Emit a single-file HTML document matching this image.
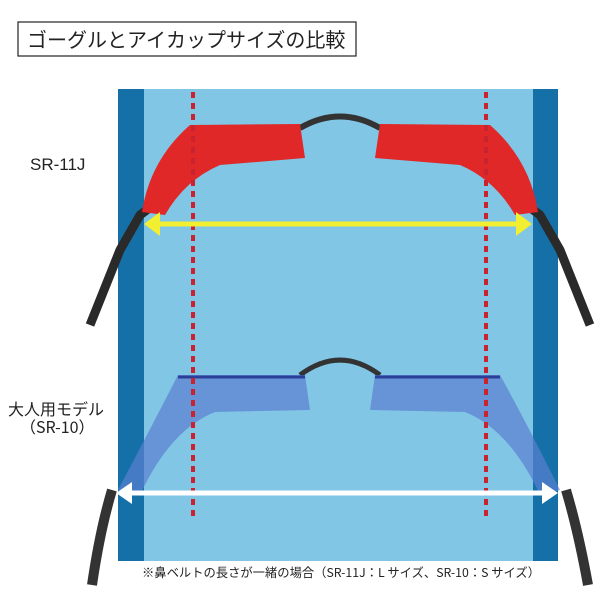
<!DOCTYPE html>
<html><head><meta charset="utf-8"><style>
body{margin:0;width:600px;height:600px;background:#fff;overflow:hidden;font-family:"Liberation Sans","Noto Sans CJK JP",sans-serif}
</style></head><body>
<svg width="600" height="600" xmlns="http://www.w3.org/2000/svg" style="position:absolute;left:0;top:0">
<rect x="18" y="22" width="338" height="34" fill="#fff" stroke="#222" stroke-width="1.2"/>
<text x="27" y="47" font-size="20" fill="#222" font-family="Noto Sans CJK JP, sans-serif">ゴーグルとアイカップサイズの比較</text>
<rect x="118" y="89" width="440" height="472" fill="#82c6e6"/>
<rect x="118" y="89" width="26" height="472" fill="#1570a8"/>
<rect x="533" y="89" width="25" height="472" fill="#1570a8"/>
<!-- red goggles -->
<path d="M90 325 L120 250 L140 215 L160 200" stroke="#2a2a2a" stroke-width="9" fill="none"/>
<path d="M590 325 L560 250 L540 215 L520 200" stroke="#2a2a2a" stroke-width="9" fill="none"/>
<path d="M300 128 Q340 105 380 128" stroke="#333" stroke-width="6" fill="none"/>
<path d="M142 212 Q150 160 190 125 L300 124 L305 158 L220 165 Q185 180 165 215 Z" fill="#e02828"/>
<path d="M538 212 Q530 160 490 125 L380 124 L375 158 L460 165 Q495 180 515 215 Z" fill="#e02828"/>
<!-- blue goggles -->
<path d="M300 375 Q340 345 380 375" stroke="#333" stroke-width="5" fill="none"/>
<path d="M112 490 Q100 530 92 585 M566 490 Q578 530 588 585" stroke="#333" stroke-width="10" fill="none"/>
<path d="M118 490 Q155 420 178 375 L305 375 L310 410 L215 412 Q170 430 140 495 Z" fill="#5a7fd0" opacity="0.7"/>
<path d="M560 490 Q525 420 500 375 L375 375 L370 410 L465 412 Q510 430 540 495 Z" fill="#5a7fd0" opacity="0.7"/>
<line x1="178" y1="377" x2="305" y2="377" stroke="#2a3f9a" stroke-width="3"/>
<line x1="375" y1="377" x2="500" y2="377" stroke="#2a3f9a" stroke-width="3"/>
<!-- dotted lines -->
<line x1="193" y1="92" x2="193" y2="520" stroke="#c8232e" stroke-width="4" stroke-dasharray="6,5"/>
<line x1="486" y1="92" x2="486" y2="520" stroke="#c8232e" stroke-width="4" stroke-dasharray="6,5"/>
<!-- arrows -->
<line x1="155" y1="224" x2="520" y2="224" stroke="#f2ee30" stroke-width="5"/>
<polygon points="144,224 160,212 160,236" fill="#f2ee30"/>
<polygon points="532,224 516,212 516,236" fill="#f2ee30"/>
<line x1="128" y1="493" x2="546" y2="493" stroke="#fff" stroke-width="5"/>
<polygon points="116,493 132,482 132,504" fill="#fff"/>
<polygon points="558,493 542,482 542,504" fill="#fff"/>
<text x="30" y="170" font-size="17" fill="#222">SR-11J</text>
<text x="8" y="415" font-size="16" fill="#222" font-family="Noto Sans CJK JP, sans-serif">大人用モデル</text>
<text x="20" y="433" font-size="16" fill="#222" font-family="Noto Sans CJK JP, sans-serif">（SR-10）</text>
<text x="142" y="577" font-size="12.3" fill="#222" font-family="Noto Sans CJK JP, sans-serif">※鼻ベルトの長さが一緒の場合（SR-11J：L サイズ、SR-10：S サイズ）</text>
</svg>
</body></html>
